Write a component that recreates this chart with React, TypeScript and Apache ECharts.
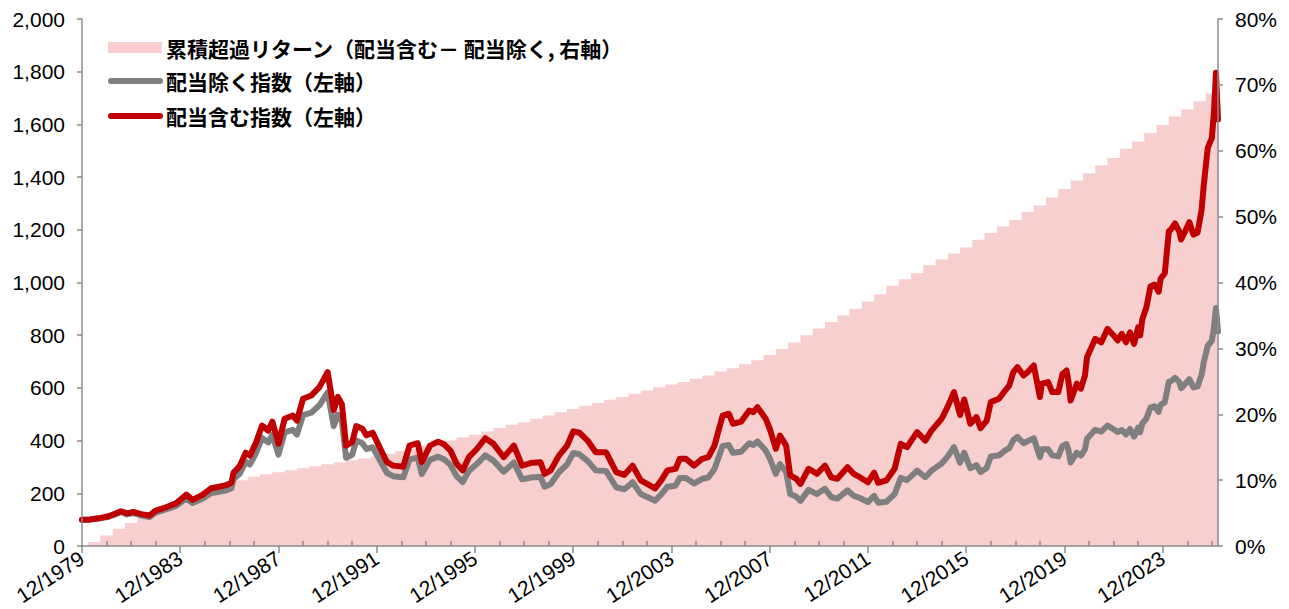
import React, { useEffect, useRef } from "react";
import * as echarts from "echarts";

// Month index counted from 12/1979 (= 0) to 3/2026 (= 555)
const LAST_MONTH = 555;

const xTickMonths = [0, 48, 96, 144, 192, 240, 288, 336, 384, 432, 480, 528];
const xTickLabels = [
  "12/1979", "12/1983", "12/1987", "12/1991", "12/1995", "12/1999",
  "12/2003", "12/2007", "12/2011", "12/2015", "12/2019", "12/2023",
];
const xMinorTickMonths = [
  12, 24, 36, 60, 72, 84, 108, 120, 132, 156, 168, 180, 204, 216, 228,
  252, 264, 276, 300, 312, 324, 348, 360, 372, 396, 408, 420, 444, 456, 468,
  492, 504, 516, 540, 552,
];

const seriesNames = [
  "累積超過リターン（配当含む－ 配当除く, 右軸）",
  "配当除く指数（左軸）",
  "配当含む指数（左軸）",
];

const months = [
  0, 4, 8, 13, 17, 19, 22, 25, 29, 33, 36, 41, 46, 51, 54, 59, 63, 67, 70, 73,
  74, 77, 80, 82, 85, 88, 91, 93, 96, 99, 103, 105, 108, 112, 116, 120, 123, 125, 127, 129,
  132, 134, 137, 139, 142, 145, 149, 152, 157, 160, 164, 166, 170, 174, 177, 180, 183, 186, 189, 193,
  197, 201, 206, 211, 215, 220, 224, 226, 229, 233, 237, 240, 243, 247, 251, 256, 261, 265, 269, 273,
  280, 283, 286, 290, 292, 295, 299, 303, 306, 309, 313, 316, 318, 322, 326, 328, 330, 334, 336, 339,
  341, 344, 346, 349, 351, 355, 359, 363, 366, 369, 374, 377, 380, 384, 387, 389, 393, 397, 400, 403,
  408, 412, 415, 420, 423, 426, 429, 431, 434, 437, 439, 442, 444, 448, 451, 453, 455, 457, 460, 462,
  465, 468, 469, 472, 474, 477, 479, 481, 482, 483, 486, 488, 490, 491, 495, 498, 501, 504, 506, 508,
  510, 512, 514, 516, 517, 518, 520, 522, 524, 526, 527, 529, 531, 532, 534, 536, 537, 539, 541, 543,
  545, 547, 548, 550, 552, 553, 554, 555,
];

const totalReturnIndex = [
  100, 101, 105, 113, 125, 132, 124, 129, 121, 116, 134, 147, 162, 195, 175, 195, 219, 225, 230, 240,
  278, 303, 354, 343, 392, 457, 438, 472, 388, 483, 495, 476, 559, 571, 603, 660, 516, 566, 537, 381,
  394, 455, 445, 420, 430, 381, 318, 305, 301, 381, 390, 318, 381, 396, 385, 362, 312, 287, 337, 369,
  409, 388, 337, 381, 305, 316, 318, 274, 287, 343, 381, 435, 430, 400, 356, 356, 280, 270, 305, 249,
  219, 249, 287, 293, 331, 331, 305, 331, 337, 381, 495, 502, 464, 472, 514, 508, 527, 483, 445, 369,
  419, 381, 268, 255, 236, 293, 274, 305, 261, 255, 299, 274, 261, 242, 278, 240, 249, 293, 388, 375,
  432, 400, 438, 483, 530, 584, 497, 556, 464, 489, 447, 476, 546, 559, 590, 609, 660, 679, 647, 660,
  685, 565, 616, 622, 584, 584, 653, 666, 622, 552, 616, 597, 647, 716, 786, 773, 824, 799, 780, 805,
  773, 811, 767, 830, 799, 860, 905, 985, 992, 965, 1015, 1035, 1195, 1201, 1224, 1195, 1163, 1195, 1229, 1182,
  1189, 1277, 1366, 1511, 1549, 1644, 1796, 1619,
];

const priceIndex = [
  100, 100, 104, 111, 122, 129, 120, 125, 116, 110, 127, 139, 152, 181, 163, 180, 201, 206, 210, 219,
  253, 274, 320, 309, 353, 410, 393, 422, 347, 431, 441, 423, 497, 506, 534, 583, 455, 499, 473, 335,
  346, 400, 390, 368, 375, 333, 277, 265, 261, 328, 336, 273, 327, 339, 328, 308, 265, 243, 285, 312,
  344, 324, 282, 317, 253, 261, 262, 225, 235, 280, 310, 353, 348, 323, 287, 285, 223, 215, 242, 197,
  172, 196, 225, 229, 258, 258, 237, 255, 260, 292, 380, 383, 354, 358, 390, 383, 397, 362, 333, 274,
  311, 282, 197, 187, 171, 213, 197, 217, 186, 180, 211, 191, 182, 167, 190, 164, 168, 197, 259, 250,
  286, 261, 286, 313, 340, 375, 316, 354, 295, 307, 281, 296, 340, 344, 363, 371, 402, 414, 390, 398,
  409, 337, 367, 367, 344, 340, 380, 387, 362, 317, 354, 343, 367, 407, 441, 434, 457, 443, 433, 440,
  423, 444, 415, 449, 432, 465, 483, 526, 530, 509, 536, 546, 623, 626, 638, 623, 599, 616, 633, 602,
  605, 650, 696, 760, 779, 827, 903, 814,
];

const excessMonths = [
  0,
  3, 9, 15, 21, 27, 33, 39, 45, 51, 57,
  63, 69, 75, 81, 87, 93, 99, 105, 111, 117,
  123, 129, 135, 141, 147, 153, 159, 165, 171, 177,
  183, 189, 195, 201, 207, 213, 219, 225, 231, 237,
  243, 249, 255, 261, 267, 273, 279, 285, 291, 297,
  303, 309, 315, 321, 327, 333, 339, 345, 351, 357,
  363, 369, 375, 381, 387, 393, 399, 405, 411, 417,
  423, 429, 435, 441, 447, 453, 459, 465, 471, 477,
  483, 489, 495, 501, 507, 513, 519, 525, 531, 537,
  543, 549,
  555,
];
const excessReturn = [
  0,
  0.6, 1.6, 2.6, 3.5, 4.3, 5.1, 5.8, 6.5, 7.2, 7.9,
  8.6, 9.3, 10.0, 10.5, 10.9, 11.2, 11.5, 11.8, 12.1, 12.4,
  12.7, 13.0, 13.3, 13.6, 14.0, 14.4, 14.8, 15.2, 15.6, 16.0,
  16.5, 16.9, 17.4, 17.9, 18.4, 18.8, 19.3, 19.8, 20.3, 20.8,
  21.3, 21.7, 22.2, 22.6, 23.1, 23.6, 24.1, 24.5, 24.9, 25.4,
  25.9, 26.5, 27.0, 27.6, 28.2, 29.0, 29.9, 30.9, 32.0, 33.0,
  34.0, 35.0, 36.0, 37.1, 38.2, 39.5, 40.5, 41.4, 42.6, 43.5,
  44.4, 45.3, 46.5, 47.5, 48.5, 49.5, 50.7, 51.7, 52.9, 54.2,
  55.5, 56.6, 57.8, 58.9, 60.3, 61.4, 62.7, 63.9, 65.2, 66.3,
  67.5, 68.7,
  68.7,
];

const zip = (xs: number[], ys: number[]) => {
  const n = Math.min(xs.length, ys.length);
  const out: number[][] = [];
  for (let i = 0; i < n; i++) out.push([xs[i], ys[i]]);
  return out;
};

const PINK = "#F7CFCF";
const GRAY = "#7F7F7F";
const RED = "#C00000";
const AXIS = "#8C8C8C";
const LABEL_FONT = '"Liberation Sans", Arial, sans-serif';
const JP_FONT = '"Noto Sans CJK JP", "Noto Sans", sans-serif';

export default function App() {
  const ref = useRef<HTMLDivElement>(null);

  useEffect(() => {
    if (!ref.current) return;
    const chart = echarts.init(ref.current, undefined, { renderer: "svg" });

    const axisLabelBase = { color: "#000", fontSize: 21, fontFamily: LABEL_FONT };
    const axisLineStyle = { color: AXIS, width: 1.5 };

    chart.setOption({
      animation: false,
      backgroundColor: "#fff",
      grid: { left: 82, right: 71, top: 19, bottom: 63, containLabel: false },
      xAxis: [
        {
          type: "value",
          min: 0,
          max: LAST_MONTH,
          position: "bottom",
          z: 5,
          axisLine: { show: true, onZero: false, lineStyle: axisLineStyle },
          axisTick: { show: true, customValues: xTickMonths, length: 7, lineStyle: axisLineStyle },
          minorTick: { show: false },
          axisLabel: {
            ...axisLabelBase,
            customValues: xTickMonths,
            rotate: 33,
            margin: 10,
            formatter: (v: number) => {
              const i = xTickMonths.indexOf(Math.round(v));
              return i >= 0 ? xTickLabels[i] : "";
            },
          },
          splitLine: { show: false },
        },
        {
          type: "value",
          min: 0,
          max: LAST_MONTH,
          position: "bottom",
          z: 5,
          axisLine: { show: false, onZero: false },
          axisTick: { show: true, inside: true, customValues: xMinorTickMonths, length: 5, lineStyle: axisLineStyle },
          minorTick: { show: false },
          axisLabel: { show: false },
          splitLine: { show: false },
        },
      ],
      yAxis: [
        {
          type: "value",
          position: "left",
          min: 0,
          max: 2000,
          interval: 200,
          z: 5,
          axisLine: { show: true, onZero: false, lineStyle: axisLineStyle },
          axisTick: { show: true, length: 5, lineStyle: axisLineStyle },
          minorTick: { show: false },
          axisLabel: {
            ...axisLabelBase,
            margin: 17,
            formatter: (v: number) => v.toLocaleString("en-US"),
          },
          splitLine: { show: false },
        },
        {
          type: "value",
          position: "right",
          min: 0,
          max: 80,
          interval: 10,
          z: 5,
          axisLine: { show: true, onZero: false, lineStyle: axisLineStyle },
          axisTick: { show: true, length: 5, lineStyle: axisLineStyle },
          minorTick: { show: false },
          axisLabel: { ...axisLabelBase, margin: 17, formatter: "{value}%" },
          splitLine: { show: false },
        },
      ],
      series: [
        {
          name: seriesNames[0],
          type: "line",
          xAxisIndex: 0,
          yAxisIndex: 1,
          step: "end",
          symbol: "none",
          data: zip(excessMonths, excessReturn),
          lineStyle: { width: 0, color: PINK },
          itemStyle: { color: PINK },
          areaStyle: { color: PINK, opacity: 1 },
          z: 1,
        },
        {
          name: seriesNames[1],
          type: "line",
          xAxisIndex: 0,
          yAxisIndex: 0,
          symbol: "none",
          data: zip(months, priceIndex),
          lineStyle: { color: GRAY, width: 6, join: "round", cap: "round" },
          itemStyle: { color: GRAY },
          z: 2,
        },
        {
          name: seriesNames[2],
          type: "line",
          xAxisIndex: 0,
          yAxisIndex: 0,
          symbol: "none",
          data: zip(months, totalReturnIndex),
          lineStyle: { color: RED, width: 6, join: "round", cap: "round" },
          itemStyle: { color: RED },
          z: 3,
        },
      ],
      graphic: [
        { type: "rect", shape: { x: 108, y: 42, width: 54, height: 11 }, style: { fill: PINK }, z: 10 },
        { type: "line", shape: { x1: 111, y1: 81, x2: 160, y2: 81 }, style: { stroke: GRAY, lineWidth: 6, lineCap: "round" }, z: 10 },
        { type: "line", shape: { x1: 111, y1: 116, x2: 160, y2: 116 }, style: { stroke: RED, lineWidth: 6, lineCap: "round" }, z: 10 },
        ...seriesNames.map((t, i) => ({
          type: "text",
          x: 166,
          y: [47.5, 81, 116][i],
          z: 10,
          style: {
            text: t,
            fill: "#000",
            fontSize: 21,
            fontWeight: "bold",
            fontFamily: JP_FONT,
            align: "left",
            verticalAlign: "middle",
          },
        })),
      ],
    });

    return () => chart.dispose();
  }, []);

  return (
    <div
      ref={ref}
      style={{ position: "absolute", left: 0, top: 0, width: 1289, height: 609 }}
    />
  );
}
